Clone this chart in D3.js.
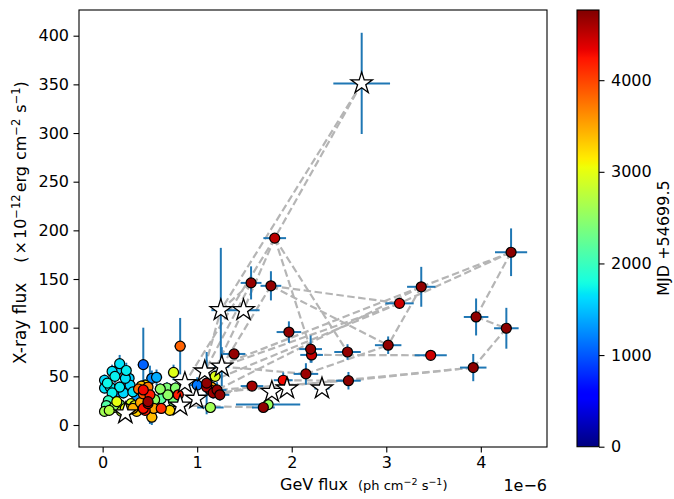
<!DOCTYPE html>
<html><head><meta charset="utf-8">
<script src="https://cdn.jsdelivr.net/npm/d3@7"></script>
<style>body{margin:0;background:#fff} svg{display:block} text{font-family:"DejaVu Sans",sans-serif;fill:#000}</style>
</head><body><svg id="c" width="674" height="499"></svg>
<script>
// ---- data (GeV flux in 1e-6 ph cm^-2 s^-1, X-ray flux in 1e-12 erg cm^-2 s^-1, MJD-54699.5) ----
const clusterX   = [0.18,0.15,0.25,0.10,0.13,0.02,0.24,0.08,0.18,0.29,0.02,0.10,0.22,0.32,0.05,0.28,
                    0.43,0.52,0.57,1.00,0.36,0.16,
                    0.02,0.04,0.07,0.06,0.12,0.15,0.18,0.20,0.28,0.30,0.34,0.36,0.40,0.24,0.32,0.52,0.71,0.62,0.45,0.43,0.54,
                    0.38,0.43,0.41,0.45,0.43,0.50,0.48,0.48,0.55,0.62,0.69,0.75,0.68,0.61,0.77,0.48,0.75,0.82,0.80,
                    1.14,1.75,1.19,1.15,1.14];
const clusterY   = [63,56,56,55,50,46,48,39,39,41,38,33,33,34,43,48,
                    62,48,49,41,30,34,
                    14,20,15,25,18,24,21,14,16,22,20,14,23,17,17,8,15,17,15,17,17,
                    37,36,40,41,32,31,24,22,26,27,31,24,38,37,38,39,54,81,31,
                    18,21,50,39,36];
const clusterXerr= [0.05,0.04,0.05,0.04,0.04,0.03,0.05,0.03,0.04,0.05,0.03,0.03,0.04,0.05,0.03,0.05,
                    0.06,0.06,0.06,0.08,0.05,0.04,
                    0.03,0.03,0.03,0.03,0.04,0.04,0.04,0.04,0.05,0.05,0.05,0.05,0.05,0.05,0.05,0.06,0.06,0.06,0.05,0.05,0.06,
                    0.05,0.05,0.05,0.05,0.05,0.06,0.05,0.05,0.06,0.06,0.06,0.06,0.06,0.06,0.06,0.05,0.06,0.06,0.06,
                    0.14,0.34,0.06,0.07,0.07];
const clusterYerr= [9,8,8,7,7,6,7,6,6,6,6,6,6,6,6,7,
                    38,8,8,8,6,6,
                    4,5,4,5,5,5,5,4,5,5,5,5,5,5,5,8,5,5,5,5,5,
                    6,6,6,6,6,30,6,6,6,6,6,6,6,6,6,6,8,29,6,
                    5,5,6,6,6];
const clusterMJD = [1650,1600,1700,1650,1720,1600,1650,1680,1700,1600,1650,1720,1600,1650,1750,1550,
                    1050,1250,1400,1150,1300,1200,
                    2600,2150,2700,2000,2500,3000,2400,2800,3200,2900,3000,3300,3500,3050,3450,3400,3250,4100,4200,4250,3500,
                    3800,4300,3400,3150,3900,4200,4650,4600,2500,2200,2500,2400,2400,2500,2450,3700,2950,3850,4200,
                    2600,2550,2950,3500,4200];

const lateX   = [1.82,1.57,1.78,1.97,2.20,2.21,2.59,2.15,2.60,1.70,1.58,1.39,1.91,4.32,3.37,3.14,3.95,4.27,3.02,3.47,3.92,1.10,1.21,1.17,1.24,1.10];
const lateY   = [192,146,143,95.5,78,72,75,52.5,45.5,18,40,73,46,177.5,142,125,111,99.4,82,71.6,59,43,36,33,31,39];
const lateXerr= [0.12,0.11,0.11,0.13,0.12,0.12,0.14,0.13,0.13,0.12,0.12,0.12,0.10,0.17,0.15,0.15,0.13,0.13,0.14,0.17,0.14,0.08,0.10,0.08,0.10,0.08];
const lateYerr= [4,17,15,11,14,8,8,11,9,5,5,4,8,24.5,20.5,4,19,21,9,3,14,32,8,6,6,6];
const lateMJD = [4520,4680,4690,4700,4690,4480,4690,4650,4720,4700,4620,4680,4300,4720,4700,4450,4700,4720,4700,4450,4720,4700,4690,4650,4700,4600];

const starX   = [2.74,1.25,1.49,1.26,1.08,0.87,0.99,0.24,0.82,1.79,1.95,2.32];
const starY   = [351,118,118,60,55,43,27,12,20,34,37.5,37.5];
const starXerr= [0.30,0.10,0.17,0.08,0.05,0.05,0.05,0.04,0.05,0.06,0.06,0.08];
const starYerr= [52,64,0,20,5,5,5,3,4,4,4,4];

const links = [["S0","S1"],["S0","L0"],["L0","S2"],["L0","L4"],["L0","L6"],["L0","S5"],["L1","S1"],["L1","S4"],
  ["L2","L15"],["L2","L18"],["L2","S3"],["L14","L13"],["L13","L15"],["L13","L16"],["L16","L17"],["L17","L20"],
  ["L20","L8"],["L8","L22"],["L14","L18"],["L15","L21"],["L14","L22"],["L19","L5"],["L15","S3"],["L14","S4"],
  ["L20","L23"],["S8","L9"],["L10","L24"],["L7","L18"],["L7","S3"],["L25","S2"],["S6","S1"],["L12","L8"]];

const xTicks = [0,1,2,3,4];
const yTicks = [0,50,100,150,200,250,300,350,400];
const cTicks = [0,1000,2000,3000,4000];
const cMax = 4766;

// ---- layout ----
const svg = d3.select("#c");
const L = 79, R = 547, T = 10, B = 447;
const x = d3.scaleLinear().domain([-0.25, 4.70]).range([L, R]);
const y = d3.scaleLinear().domain([-22.6, 426.4]).range([B, T]);

function pw(pts, t){
  for (let i=1;i<pts.length;i++){ if (t<=pts[i][0]){ const a=pts[i-1], b=pts[i]; return a[1]+(b[1]-a[1])*(t-a[0])/(b[0]-a[0]); } }
  return pts[pts.length-1][1];
}
function jet(t){
  t = Math.max(0, Math.min(1, t));
  const r = pw([[0,0],[0.35,0],[0.66,1],[0.89,1],[1,0.5]], t);
  const g = pw([[0,0],[0.125,0],[0.375,1],[0.64,1],[0.91,0],[1,0]], t);
  const b = pw([[0,0.5],[0.11,1],[0.34,1],[0.65,0],[1,0]], t);
  return d3.rgb(r*255, g*255, b*255).formatHex();
}
const cscale = d3.scaleLinear().domain([0, cMax]).range([0,1]);
const col = m => jet(cscale(m));

const defs = svg.append("defs");
defs.append("clipPath").attr("id","clip").append("rect").attr("x",L).attr("y",T).attr("width",R-L).attr("height",B-T);

const plot = svg.append("g").attr("clip-path","url(#clip)");

// dashed links
function node(id){ const i = +id.slice(1); return id[0]==="S" ? [starX[i], starY[i]] : [lateX[i], lateY[i]]; }
plot.append("g").selectAll("line").data(links).join("line")
  .attr("x1", d=>x(node(d[0])[0])).attr("y1", d=>y(node(d[0])[1]))
  .attr("x2", d=>x(node(d[1])[0])).attr("y2", d=>y(node(d[1])[1]))
  .attr("stroke","#b5b5b5").attr("stroke-width",2.2).attr("stroke-dasharray","7.5,3.5").attr("fill","none");

// build point lists
const circles = [];
clusterX.forEach((v,i)=>circles.push({x:v,y:clusterY[i],xe:clusterXerr[i],ye:clusterYerr[i],m:clusterMJD[i]}));
lateX.forEach((v,i)=>circles.push({x:v,y:lateY[i],xe:lateXerr[i],ye:lateYerr[i],m:lateMJD[i]}));
circles.sort((a,b)=>a.m-b.m);
const stars = starX.map((v,i)=>({x:v,y:starY[i],xe:starXerr[i],ye:starYerr[i]}));

const ebColor = "#1f77b4";
function errbars(g, data){
  g.selectAll("line.h").data(data).join("line").attr("class","h")
    .attr("x1",d=>x(d.x-d.xe)).attr("x2",d=>x(d.x+d.xe)).attr("y1",d=>y(d.y)).attr("y2",d=>y(d.y))
    .attr("stroke",ebColor).attr("stroke-width",2);
  g.selectAll("line.v").data(data).join("line").attr("class","v")
    .attr("x1",d=>x(d.x)).attr("x2",d=>x(d.x)).attr("y1",d=>y(d.y-d.ye)).attr("y2",d=>y(d.y+d.ye))
    .attr("stroke",ebColor).attr("stroke-width",2);
}
errbars(plot.append("g"), circles);
errbars(plot.append("g"), stars);

plot.append("g").selectAll("circle").data(circles).join("circle")
  .attr("cx",d=>x(d.x)).attr("cy",d=>y(d.y)).attr("r",5)
  .attr("fill",d=>col(d.m)).attr("stroke","#000").attr("stroke-width",1.2);

const starPath = d3.symbol().type(d3.symbolStar).size(143)();
plot.append("g").selectAll("path").data(stars).join("path")
  .attr("d", starPath).attr("transform", d=>`translate(${x(d.x)},${y(d.y)})`)
  .attr("fill","#fff").attr("stroke","#000").attr("stroke-width",1.3).attr("stroke-linejoin","miter");

// axes
const fs = 16;
const xa = svg.append("g").attr("transform",`translate(0,${B})`)
  .call(d3.axisBottom(x).tickValues(xTicks).tickSize(5.5).tickPadding(4).tickFormat(d3.format("d")));
const ya = svg.append("g").attr("transform",`translate(${L},0)`)
  .call(d3.axisLeft(y).tickValues(yTicks).tickSize(5.5).tickPadding(4.5).tickFormat(d3.format("d")));
[xa,ya].forEach(a=>{ a.select(".domain").remove(); a.selectAll("line").attr("stroke","#000").attr("stroke-width",1.1);
  a.selectAll("text").attr("font-size",fs).attr("font-family","DejaVu Sans").attr("fill","#000"); });

svg.append("rect").attr("x",L).attr("y",T).attr("width",R-L).attr("height",B-T)
  .attr("fill","none").attr("stroke","#000").attr("stroke-width",1.1);

// offset text
svg.append("text").attr("x",R).attr("y",491).attr("text-anchor","end").attr("font-size",fs).text("1e\u22126");

// x label
const xl = svg.append("text").attr("x",280).attr("y",490).attr("font-size",fs);
xl.append("tspan").text("GeV flux");
xl.append("tspan").attr("dx",10).attr("font-size",13).text("(ph cm");
xl.append("tspan").attr("font-size",9.5).attr("dy",-5).text("\u22122");
xl.append("tspan").attr("font-size",13).attr("dy",5).text(" s");
xl.append("tspan").attr("font-size",9.5).attr("dy",-5).text("\u22121");
xl.append("tspan").attr("font-size",13).attr("dy",5).text(")");

// y label
const yl = svg.append("text").attr("transform","translate(26,364) rotate(-90)").attr("font-size",17);
yl.append("tspan").text("X-ray flux");
yl.append("tspan").attr("dx",20).attr("font-size",16).text("(");
yl.append("tspan").attr("dx",2).attr("font-size",16).text("\u00d7");
yl.append("tspan").attr("dx",2).attr("font-size",16).text("10");
yl.append("tspan").attr("font-size",11.5).attr("dy",-6.5).text("\u221212");
yl.append("tspan").attr("dx",2).attr("font-size",16).attr("dy",6.5).text("erg");
yl.append("tspan").attr("dx",6).attr("font-size",16).text("cm");
yl.append("tspan").attr("font-size",11.5).attr("dy",-6.5).text("\u22122");
yl.append("tspan").attr("dx",6).attr("font-size",16).attr("dy",6.5).text("s");
yl.append("tspan").attr("font-size",11.5).attr("dy",-6.5).text("\u22121");
yl.append("tspan").attr("font-size",16).attr("dy",6.5).text(")");

// colorbar
const CL = 577, CR = 599, CT = 10, CB = 446.7;
const grad = defs.append("linearGradient").attr("id","jet").attr("x1",0).attr("y1",1).attr("x2",0).attr("y2",0);
d3.range(0,101).forEach(i=>grad.append("stop").attr("offset",i/100).attr("stop-color",jet(i/100)));
svg.append("rect").attr("x",CL).attr("y",CT).attr("width",CR-CL).attr("height",CB-CT).attr("fill","url(#jet)")
  .attr("stroke","#000").attr("stroke-width",1.1);
const cy = d3.scaleLinear().domain([0,cMax]).range([CB,CT]);
const ca = svg.append("g").attr("transform",`translate(${CR},0)`)
  .call(d3.axisRight(cy).tickValues(cTicks).tickSize(5.5).tickPadding(6.5).tickFormat(d3.format("d")));
ca.select(".domain").remove();
ca.selectAll("line").attr("stroke","#000").attr("stroke-width",1.1);
ca.selectAll("text").attr("font-size",fs).attr("font-family","DejaVu Sans").attr("fill","#000");
svg.append("text").attr("transform","translate(669,238) rotate(-90)").attr("text-anchor","middle")
  .attr("font-size",fs).text("MJD +54699.5");
</script></body></html>
